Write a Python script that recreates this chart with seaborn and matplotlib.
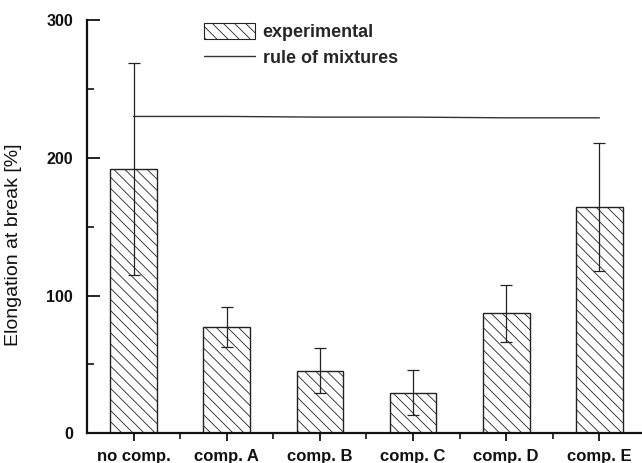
import numpy as np
import pandas as pd
import matplotlib
matplotlib.use("Agg")
import matplotlib.pyplot as plt
import seaborn as sns
from matplotlib.patches import Patch
from matplotlib.lines import Line2D
from matplotlib.ticker import MultipleLocator, FixedLocator

# Data
categories = ["no comp.", "comp. A", "comp. B", "comp. C", "comp. D", "comp. E"]
elongation = [192, 77, 45.5, 29.5, 87, 164]
elongation_err = [77, 14.5, 16.5, 16.5, 20.5, 46.5]
rule_of_mixtures = [230, 230, 229.5, 229.5, 229, 229]
y_ticks = [0, 100, 200, 300]

sns.set_theme(style="white")
plt.rcParams["font.family"] = ["Liberation Sans", "DejaVu Sans"]
plt.rcParams["hatch.linewidth"] = 0.6
plt.rcParams["hatch.color"] = "#222222"

df = pd.DataFrame({"sample": categories, "elongation": elongation})

fig = plt.figure(figsize=(6.42, 4.63), dpi=100)
ax = fig.add_axes([87 / 642, 29.7 / 463, 559 / 642, 413.3 / 463])

sns.barplot(data=df, x="sample", y="elongation", order=categories,
            color="white", edgecolor="#222222", linewidth=1.0,
            width=0.5, errorbar=None, hatch="\\\\\\", ax=ax)

pos = np.arange(len(categories))
ax.errorbar(pos, elongation, yerr=elongation_err, fmt="none",
            ecolor="#222222", elinewidth=0.9, capsize=4, capthick=0.9,
            zorder=3)

sns.lineplot(x=pos, y=rule_of_mixtures, color="#333333", linewidth=1.0,
             ax=ax, zorder=3)

ax.set_xlim(-0.5, 5.5)
ax.set_ylim(0, 300)
ax.set_yticks(y_ticks)
ax.yaxis.set_minor_locator(MultipleLocator(50))
ax.xaxis.set_minor_locator(FixedLocator(pos[:-1] + 0.5))

for s in ["top", "right"]:
    ax.spines[s].set_visible(False)
for s in ["left", "bottom"]:
    ax.spines[s].set_linewidth(1.6)
    ax.spines[s].set_color("#111111")

ax.tick_params(axis="y", which="major", direction="in", length=9,
               width=1.3, pad=10, labelsize=11.5, colors="#111111",
               left=True)
ax.tick_params(axis="y", which="minor", direction="in", length=5,
               width=1.2, left=True, color="#111111")
ax.tick_params(axis="x", which="major", direction="out", length=6,
               width=1.3, pad=5, labelsize=12, colors="#111111",
               bottom=True)
ax.tick_params(axis="x", which="minor", direction="out", length=4,
               width=1.2, bottom=True, color="#111111")
for lab in ax.get_xticklabels() + ax.get_yticklabels():
    lab.set_fontweight("bold")

ax.set_xlabel("")
ax.set_ylabel("Elongation at break [%]", fontsize=14, color="#111111")
ax.yaxis.set_label_coords(-0.116, 0.456)

handles = [
    Patch(facecolor="white", edgecolor="#222222", hatch="\\\\\\",
          linewidth=0.8),
    Line2D([0], [0], color="#333333", linewidth=1.0),
]
leg = ax.legend(handles, ["experimental", "rule of mixtures"],
                loc="upper left", bbox_to_anchor=(204 / 642, 1 - 23 / 463),
                bbox_transform=fig.transFigure, frameon=False,
                borderpad=0, borderaxespad=0, handlelength=2.8,
                handleheight=0.95, handletextpad=0.45, labelspacing=0.45,
                prop={"size": 13, "weight": "bold"})

fig.savefig("out.png", dpi=100)
